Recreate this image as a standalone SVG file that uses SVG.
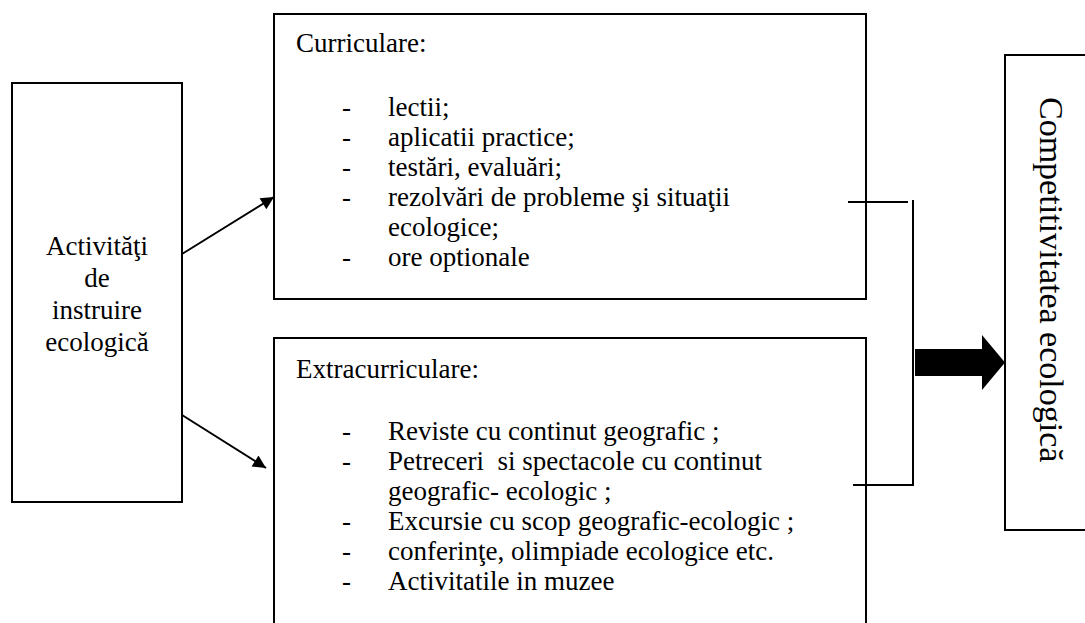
<svg xmlns="http://www.w3.org/2000/svg" width="1085" height="623" viewBox="0 0 1085 623">
<style>
.box{fill:#fff;stroke:#000;stroke-width:2}
.t{font-family:"Liberation Serif","Times New Roman",serif;font-size:27px;fill:#000}
.c{text-anchor:middle}
.ln{stroke:#000;stroke-width:2;fill:none}
</style>
<defs>
<marker id="ah" viewBox="0 0 10 10" refX="10" refY="5" markerWidth="16" markerHeight="13" markerUnits="userSpaceOnUse" orient="auto">
<path d="M0,0 L10,5 L0,10 Z" fill="#000"/>
</marker>
</defs>
<rect width="1085" height="623" fill="#fff"/>
<g id="activitati">
<rect class="box" x="12" y="83" width="170" height="419"/>
<text class="t c" x="97" y="255">Activităţi</text>
<text class="t c" x="97" y="287">de</text>
<text class="t c" x="97" y="319">instruire</text>
<text class="t c" x="97" y="351">ecologică</text>
</g>
<g id="curriculare">
<rect class="box" x="274" y="14" width="592" height="285"/>
<text class="t" x="296" y="52">Curriculare:</text>
<g class="t">
<text x="342" y="116">-</text><text x="388" y="116">lectii;</text>
<text x="342" y="146">-</text><text x="388" y="146">aplicatii practice;</text>
<text x="342" y="176">-</text><text x="388" y="176">testări, evaluări;</text>
<text x="342" y="206">-</text><text x="388" y="206">rezolvări de probleme şi situaţii</text>
<text x="388" y="236">ecologice;</text>
<text x="342" y="266">-</text><text x="388" y="266">ore optionale</text>
</g>
</g>
<g id="extracurriculare">
<rect class="box" x="274" y="338" width="592" height="300"/>
<text class="t" x="296" y="378">Extracurriculare:</text>
<g class="t">
<text x="342" y="440">-</text><text x="388" y="440">Reviste cu continut geografic ;</text>
<text x="342" y="470">-</text><text x="388" y="470" xml:space="preserve">Petreceri  si spectacole cu continut</text>
<text x="388" y="500">geografic- ecologic ;</text>
<text x="342" y="530">-</text><text x="388" y="530">Excursie cu scop geografic-ecologic ;</text>
<text x="342" y="560">-</text><text x="388" y="560">conferinţe, olimpiade ecologice etc.</text>
<text x="342" y="590">-</text><text x="388" y="590">Activitatile in muzee</text>
</g>
</g>
<g id="competitivitatea">
<rect class="box" x="1005" y="55" width="100" height="475"/>
<text class="t" style="font-size:34px" transform="translate(1040,97) rotate(90)">Competitivitatea ecologică</text>
</g>
<g id="connectors">
<line class="ln" x1="182" y1="254" x2="274" y2="197" marker-end="url(#ah)"/>
<line class="ln" x1="182" y1="415" x2="266" y2="468" marker-end="url(#ah)"/>
<line class="ln" x1="848" y1="202" x2="908" y2="202"/>
<polyline class="ln" points="913,200 913,485 853,485"/>
<path d="M915,349 L982,349 L982,335 L1005,362.5 L982,390 L982,376 L915,376 Z" fill="#000"/>
</g>
</svg>
